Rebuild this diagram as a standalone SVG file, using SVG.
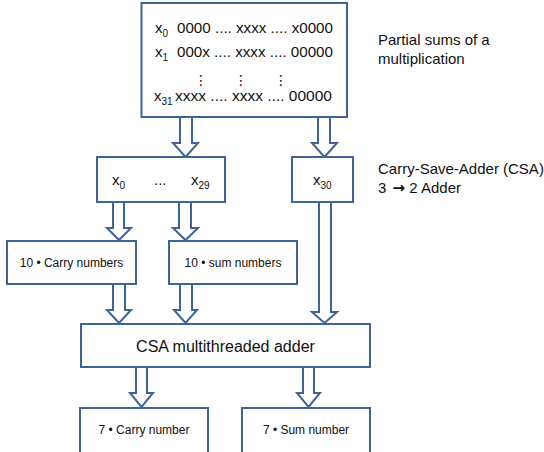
<svg xmlns="http://www.w3.org/2000/svg" width="544" height="452" viewBox="0 0 544 452">
<style>
.box{fill:#fff;stroke:#3F649A;stroke-width:2}
.arr{fill:#fff;stroke:#3F649A;stroke-width:2;stroke-linejoin:miter}
text{font-family:"Liberation Sans",Arial,sans-serif;fill:#111}
.t15{font-size:15px}
.t12{font-size:12px}
.t16{font-size:16px}
.sub{font-size:10px}
.dots{font-family:"DejaVu Sans",sans-serif;font-size:14px}
.bigarrow{font-family:"DejaVu Sans",sans-serif;font-weight:bold}
</style>
<rect width="544" height="452" fill="#fff"/>
<g id="connectors">
<path class="arr" d="M180,117 V143 H173 L185.5,157 L198,143 H192 V117"/>
<path class="arr" d="M318,117 V143 H312 L324.5,157 L337,143 H330 V117"/>
<path class="arr" d="M113,202 V228 H107 L119,240 L131,228 H124 V202"/>
<path class="arr" d="M179,202 V228 H173 L185.5,240 L198,228 H191 V202"/>
<path class="arr" d="M113,284 V310 H107 L119,323 L131,310 H125 V284"/>
<path class="arr" d="M180,284 V310 H174 L185.5,323 L197,310 H192 V284"/>
<path class="arr" d="M319,202 V312 H312 L324.5,323 L337,312 H331 V202"/>
<path class="arr" d="M136,367 V393 H130 L141.5,407 L153,393 H147 V367"/>
<path class="arr" d="M303,367 V393 H297 L308.5,407 L320,393 H314 V367"/>
</g>
<g id="partial">
<rect class="box" x="141.5" y="3" width="205.5" height="114"/>
<text class="t15" x="155" y="33">x<tspan class="sub" dy="4">0</tspan><tspan dy="-4" x="177" textLength="156" lengthAdjust="spacingAndGlyphs">0000 .... xxxx .... x0000</tspan></text>
<text class="t15" x="155" y="57">x<tspan class="sub" dy="4">1</tspan><tspan dy="-4" x="177" textLength="156" lengthAdjust="spacingAndGlyphs">000x .... xxxx .... 00000</tspan></text>
<text class="dots" x="194" y="85">⋮</text>
<text class="dots" x="234" y="85">⋮</text>
<text class="dots" x="274" y="85">⋮</text>
<text class="t15" x="154" y="101">x<tspan class="sub" dy="4">31</tspan><tspan dy="-4" x="175" textLength="157" lengthAdjust="spacingAndGlyphs">xxxx .... xxxx .... 00000</tspan></text>
</g>
<g id="label-partial">
<text class="t15" x="378" y="45">Partial sums of a</text>
<text class="t15" x="378" y="64">multiplication</text>
</g>
<g id="label-csa">
<text class="t15" x="378" y="174">Carry-Save-Adder (CSA)</text>
<text class="t15" x="378" y="193">3 <tspan class="bigarrow" dx="2">→</tspan> 2 Adder</text>
</g>
<g id="x0-x29">
<rect class="box" x="97" y="157" width="128" height="45"/>
<text class="t15" x="112" y="185">x<tspan class="sub" dy="4">0</tspan></text>
<text class="t15" x="154" y="185">...</text>
<text class="t15" x="191" y="185">x<tspan class="sub" dy="4">29</tspan></text>
</g>
<g id="x30">
<rect class="box" x="292" y="157" width="61" height="45"/>
<text class="t15" x="313" y="185">x<tspan class="sub" dy="4">30</tspan></text>
</g>
<g id="carry10">
<rect class="box" x="7" y="241" width="129" height="43"/>
<text class="t12" x="71.5" y="267" text-anchor="middle">10 • Carry numbers</text>
</g>
<g id="sum10">
<rect class="box" x="169" y="241" width="128" height="43"/>
<text class="t12" x="233" y="267" text-anchor="middle">10 • sum numbers</text>
</g>
<g id="csa">
<rect class="box" x="81" y="324" width="289" height="43"/>
<text class="t16" x="225.5" y="352" text-anchor="middle">CSA multithreaded adder</text>
</g>
<g id="carry7">
<rect class="box" x="80" y="408" width="128" height="48"/>
<text class="t12" x="144" y="434" text-anchor="middle">7 • Carry number</text>
</g>
<g id="sum7">
<rect class="box" x="242" y="408" width="128" height="48"/>
<text class="t12" x="306" y="434" text-anchor="middle">7 • Sum number</text>
</g>
</svg>
